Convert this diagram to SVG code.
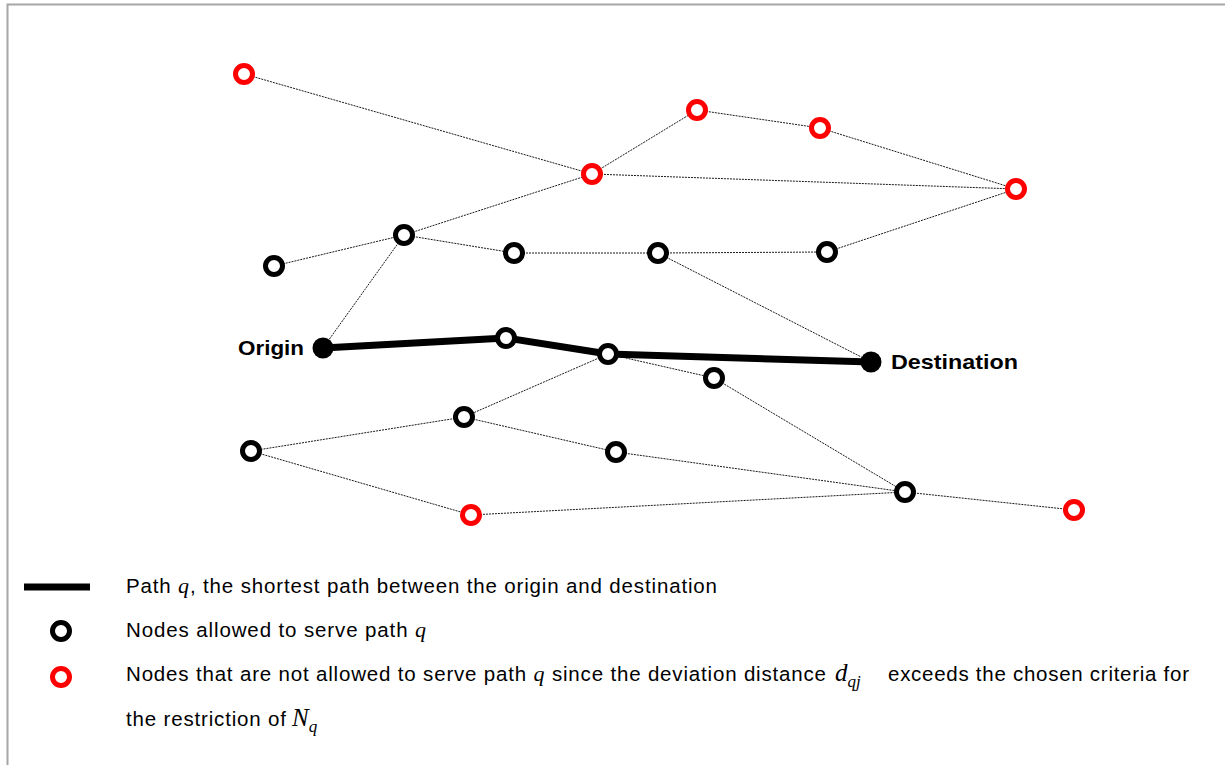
<svg xmlns="http://www.w3.org/2000/svg" width="1225" height="765" viewBox="0 0 1225 765">
<style>
.edge{stroke:#000;stroke-width:0.9;stroke-dasharray:2 1;fill:none}
.path{stroke:#000;stroke-width:7;fill:none;stroke-linejoin:round}
.ok{fill:#fff;stroke:#000;stroke-width:5}
.no{fill:#fff;stroke:#f00;stroke-width:5}
.end{fill:#000}
.lbl{font-family:"Liberation Sans",Arial,sans-serif;font-weight:bold;font-size:21px;fill:#000}
.leg{font-family:"Liberation Sans",Arial,sans-serif;font-size:20.5px;fill:#000}
.m{font-family:"Liberation Serif","Times New Roman",serif;font-style:italic;font-size:22px}
.md{font-family:"Liberation Serif","Times New Roman",serif;font-style:italic;font-size:25px}
.ms{font-family:"Liberation Serif","Times New Roman",serif;font-style:italic;font-size:17px}
</style>
<rect width="1225" height="765" fill="#fff"/>
<path d="M7.5 765 V4.5 H1225" stroke="#a6a6a6" stroke-width="2" fill="none"/>
<g id="connectors">
<line class="edge" x1="244" y1="74" x2="592" y2="174"/>
<line class="edge" x1="592" y1="174" x2="697" y2="110"/>
<line class="edge" x1="697" y1="110" x2="820" y2="128"/>
<line class="edge" x1="820" y1="128" x2="1016" y2="189"/>
<line class="edge" x1="592" y1="174" x2="1016" y2="189"/>
<line class="edge" x1="274" y1="266" x2="404" y2="235"/>
<line class="edge" x1="404" y1="235" x2="592" y2="174"/>
<line class="edge" x1="404" y1="235" x2="514" y2="253"/>
<line class="edge" x1="514" y1="253" x2="658" y2="253"/>
<line class="edge" x1="658" y1="253" x2="827" y2="252"/>
<line class="edge" x1="827" y1="252" x2="1016" y2="189"/>
<line class="edge" x1="404" y1="235" x2="323" y2="348"/>
<line class="edge" x1="658" y1="253" x2="871" y2="362"/>
<line class="edge" x1="608" y1="354" x2="464" y2="417"/>
<line class="edge" x1="608" y1="354" x2="714" y2="378"/>
<line class="edge" x1="714" y1="378" x2="905" y2="492"/>
<line class="edge" x1="464" y1="417" x2="251" y2="451"/>
<line class="edge" x1="464" y1="417" x2="616" y2="452"/>
<line class="edge" x1="616" y1="452" x2="905" y2="492"/>
<line class="edge" x1="251" y1="451" x2="471" y2="515"/>
<line class="edge" x1="471" y1="515" x2="905" y2="492"/>
<line class="edge" x1="905" y1="492" x2="1074" y2="510"/>
<polyline class="path" points="323,348 506,338 608,354 871,362"/>
</g>
<g id="origin"><circle class="end" cx="323" cy="348" r="10.5"/><text class="lbl" x="238" y="355" textLength="66" lengthAdjust="spacingAndGlyphs">Origin</text></g>
<g id="destination"><circle class="end" cx="871" cy="362" r="10.5"/><text class="lbl" x="891" y="369" textLength="127" lengthAdjust="spacingAndGlyphs">Destination</text></g>
<g id="nA"><circle class="no" cx="244" cy="74" r="8.5"/></g>
<g id="nB"><circle class="no" cx="592" cy="174" r="8.5"/></g>
<g id="nC"><circle class="no" cx="697" cy="110" r="8.5"/></g>
<g id="nD"><circle class="no" cx="820" cy="128" r="8.5"/></g>
<g id="nE"><circle class="no" cx="1016" cy="189" r="8.5"/></g>
<g id="nF"><circle class="no" cx="471" cy="515" r="8.5"/></g>
<g id="nG"><circle class="no" cx="1074" cy="510" r="8.5"/></g>
<g id="nH"><circle class="ok" cx="274" cy="266" r="8.5"/></g>
<g id="nI"><circle class="ok" cx="404" cy="235" r="8.5"/></g>
<g id="nJ"><circle class="ok" cx="514" cy="253" r="8.5"/></g>
<g id="nK"><circle class="ok" cx="658" cy="253" r="8.5"/></g>
<g id="nL"><circle class="ok" cx="827" cy="252" r="8.5"/></g>
<g id="nM"><circle class="ok" cx="506" cy="338" r="8.5"/></g>
<g id="nN"><circle class="ok" cx="608" cy="354" r="8.5"/></g>
<g id="nO"><circle class="ok" cx="714" cy="378" r="8.5"/></g>
<g id="nP"><circle class="ok" cx="464" cy="417" r="8.5"/></g>
<g id="nQ"><circle class="ok" cx="251" cy="451" r="8.5"/></g>
<g id="nR"><circle class="ok" cx="616" cy="452" r="8.5"/></g>
<g id="nS"><circle class="ok" cx="905" cy="492" r="8.5"/></g>
<g id="legend">
<line x1="24" y1="587" x2="90" y2="587" stroke="#000" stroke-width="7"/>
<circle class="ok" cx="61" cy="631" r="8.5"/>
<circle class="no" cx="61" cy="677" r="8.5"/>
<text class="leg" x="126" y="593" textLength="591">Path <tspan class="m">q</tspan>, the shortest path between the origin and destination</text>
<text class="leg" x="126" y="637" textLength="300">Nodes allowed to serve path <tspan class="m">q</tspan></text>
<text class="leg" x="126" y="681" textLength="700">Nodes that are not allowed to serve path <tspan class="m">q</tspan> since the deviation distance</text>
<text class="leg" x="835" y="681"><tspan class="md">d</tspan><tspan class="ms" dy="6">qj</tspan></text>
<text class="leg" x="888" y="681" textLength="301">exceeds the chosen criteria for</text>
<text class="leg" x="126" y="726" textLength="160">the restriction of</text>
<text class="leg" x="292" y="726"><tspan class="md">N</tspan><tspan class="ms" dy="6">q</tspan></text>
</g>
</svg>
